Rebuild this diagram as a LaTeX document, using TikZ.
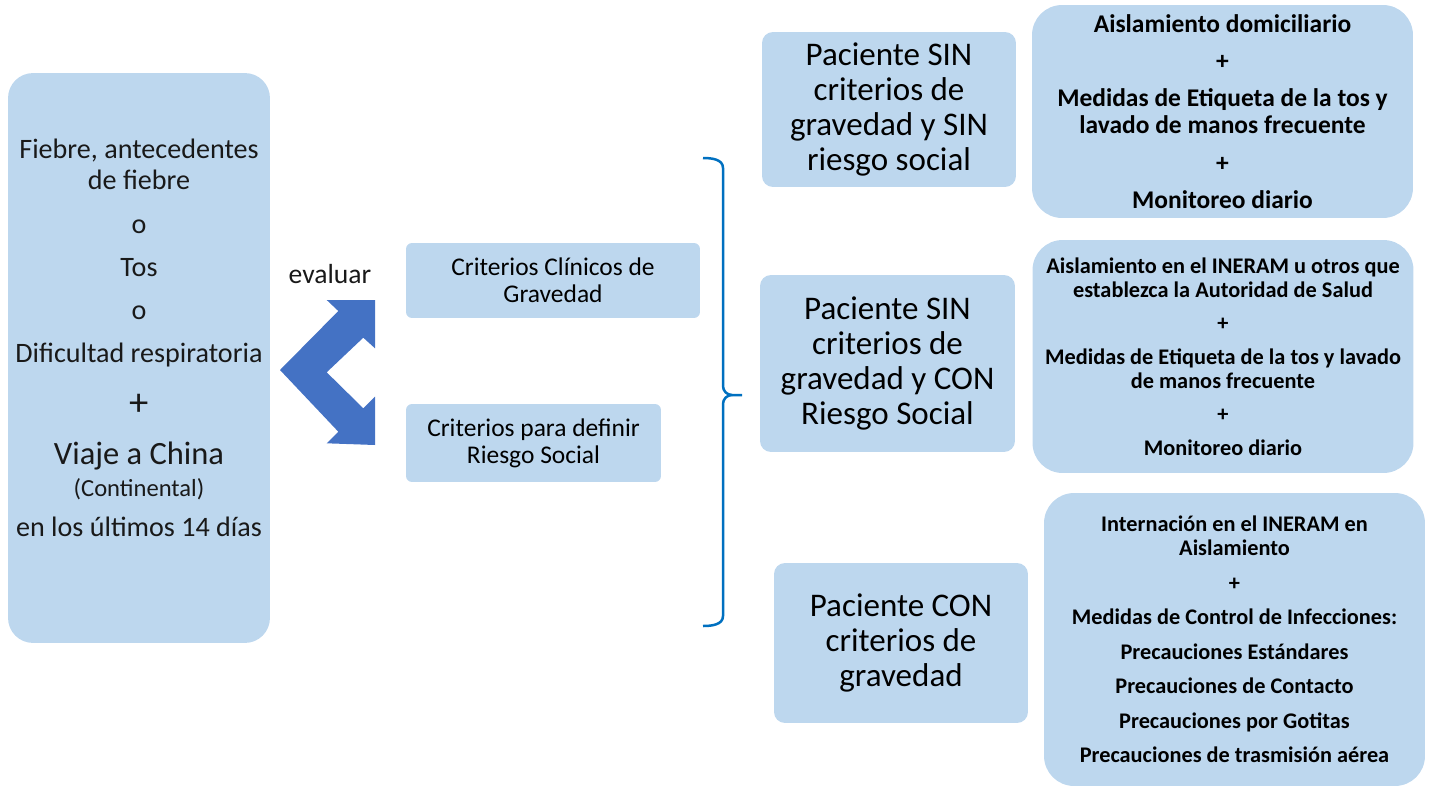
\documentclass[tikz,border=0pt]{standalone}
\usepackage{fontspec}
\setmainfont{Carlito}
\usepackage{tikz}
\usepackage{xcolor}
\usetikzlibrary{calc}
\definecolor{cajaazul}{HTML}{BDD7EE}
\definecolor{flecha}{HTML}{4472C4}
\definecolor{llave}{HTML}{0070C0}

\begin{document}
\begin{tikzpicture}[x=0.02cm,y=-0.02cm]
        \tikzstyle{caja}=[fill=cajaazul,draw=none,align=center,inner sep=0pt]
        \tikzstyle{texto}=[align=center,inner sep=0pt,text=black!90]
        \useasboundingbox (0,0) rectangle (1431,788);

        % sintomas
        \node[caja,rounded corners=0.5cm,minimum width=5.24cm,minimum height=11.4cm] (sint) at (139,358) {};
        \node[texto,font=\fontsize{16}{18}\selectfont] (sinttxt) at ($(sint)+(0,-20)$)
            {Fiebre, antecedentes\\de fiebre\\[6.5pt]
             o\\[6.5pt]
             Tos\\[6.5pt]
             o\\[6.5pt]
             Dificultad respiratoria\\[12.5pt]
             {\fontsize{22}{18}\selectfont +}\\[10pt]
             {\fontsize{18.5}{18}\selectfont Viaje a China}\\
             {\fontsize{14}{18}\selectfont (Continental)}\\[5pt]
             en los últimos 14 días};

        % evaluar
        \node[texto,font=\fontsize{15.7}{18}\selectfont] (eval) at (330,274) {evaluar};
        \fill[flecha] (326.7,300) -- (375,300) -- (375,348.3) -- (363.3,337.7)
            -- (326.7,372.3) -- (363.3,408.3) -- (375,396.7) -- (375,445)
            -- (326.7,443.3) -- (338.3,431.7) -- (280,370) -- (338.3,311) -- cycle;

        \node[caja,rounded corners=0.12cm,minimum width=5.88cm,minimum height=1.5cm,font=\fontsize{14.5}{15.3}\selectfont] (clin) at (553,280.5) {Criterios Clínicos de\\Gravedad};
        \node[caja,rounded corners=0.12cm,minimum width=5.1cm,minimum height=1.56cm,font=\fontsize{14.5}{15.3}\selectfont] (soc) at (533.5,443) {Criterios para definir\\Riesgo Social};

        % llave
        \coordinate (l1) at (703,158);
        \coordinate (l2) at (742,395);
        \coordinate (l3) at (703,626);
        \draw[llave,line width=0.05cm] (l1) to[out=0,in=90] (723,168) -- (723,386)
            to[out=-90,in=180] (732,395) -- (l2);
        \draw[llave,line width=0.05cm] (732,395) to[out=180,in=90] (723,404) -- (723,616)
            to[out=-90,in=0] (l3);

        % pacientes
        \tikzstyle{paciente}=[caja,rounded corners=0.22cm,font=\fontsize{18.8}{19.8}\selectfont]
        \node[paciente,minimum width=5.08cm,minimum height=3.1cm] (pac1) at (889,109.5)
            {Paciente SIN\\criterios de\\gravedad y SIN\\riesgo social};
        \node[paciente,minimum width=5.1cm,minimum height=3.54cm] (pac2) at (887.5,363.5)
            {Paciente SIN\\criterios de\\gravedad y CON\\Riesgo Social};
        \node[paciente,minimum width=5.08cm,minimum height=3.2cm] (pac3) at (901,643)
            {Paciente CON\\criterios de\\gravedad};

        % medidas
        \tikzstyle{medida}=[caja,rounded corners=0.6cm,minimum width=7.62cm]
        \node[medida,minimum height=4.26cm,font=\bfseries\fontsize{14.5}{15.3}\selectfont] (med1) at (1222.5,111.5)
            {Aislamiento domiciliario\\[6pt]
             +\\[6pt]
             Medidas de Etiqueta de la tos y\\lavado de manos frecuente\\[6pt]
             +\\[6pt]
             Monitoreo diario};
        \node[medida,minimum height=4.66cm,font=\bfseries\fontsize{12.7}{13.6}\selectfont] (med2) at (1223,356.5)
            {Aislamiento en el INERAM u otros que\\establezca la Autoridad de Salud\\[5.5pt]
             +\\[5.5pt]
             Medidas de Etiqueta de la tos y lavado\\de manos frecuente\\[5.5pt]
             +\\[5.5pt]
             Monitoreo diario};
        \node[medida,minimum height=5.86cm,font=\bfseries\fontsize{12.7}{13.6}\selectfont] (med3) at (1234.5,639.5)
            {Internación en el INERAM en\\Aislamiento\\[6pt]
             +\\[6pt]
             Medidas de Control de Infecciones:\\[6pt]
             Precauciones Estándares\\[6pt]
             Precauciones de Contacto\\[6pt]
             Precauciones por Gotitas\\[6pt]
             Precauciones de trasmisión aérea};
\end{tikzpicture}
\end{document}
